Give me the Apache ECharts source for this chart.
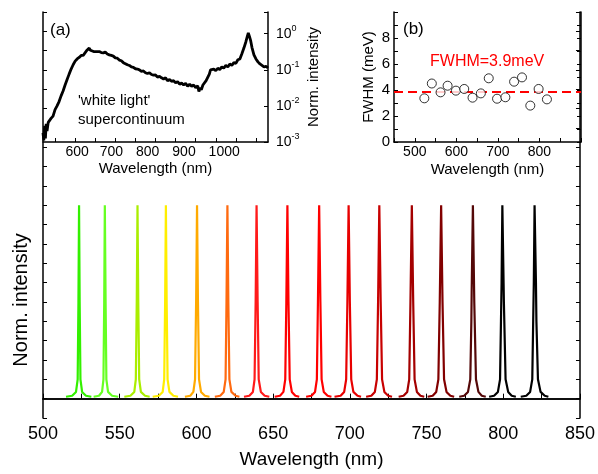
<!DOCTYPE html>
<html><head><meta charset="utf-8">
<script src="https://cdn.jsdelivr.net/npm/echarts/dist/echarts.min.js"></script>
<style>html,body{margin:0;padding:0;background:#fff}#c{width:598px;height:474px}</style>
</head><body><div id="c"></div>
<script>
// ---------- DATA ----------
// Main panel: narrow emission lines (wavelength nm, normalized intensity x10)
const peak523 = [[515,0.1],[519,0.15],[521.5,0.35],[522.6,1],[523.1,5],[523.5,10],[523.9,5],[524.4,1],[525.5,0.35],[528,0.15],[531.5,0.1]];
const peak540 = [[533,0.1],[536.5,0.15],[538.5,0.35],[539.4,1],[539.9,5],[540.3,10],[540.8,5],[541.3,1],[542.4,0.35],[545,0.15],[549,0.1]];
const peak561 = [[553,0.1],[557,0.15],[559.5,0.35],[560.5,1],[561.1,5],[561.6,10],[562.1,5],[562.7,1],[563.8,0.35],[566.5,0.15],[569.5,0.1]];
const peak580 = [[571.5,0.1],[575.5,0.15],[578,0.35],[579,1],[579.6,5],[580.1,10],[580.6,5],[581.2,1],[582.4,0.35],[585,0.15],[588,0.1]];
const peak600 = [[592.5,0.1],[596,0.15],[598,0.35],[599.1,1],[599.8,5],[600.4,10],[601,5],[601.7,1],[603,0.35],[605.5,0.15],[608.5,0.1]];
const peak620 = [[612,0.1],[615.5,0.15],[617.8,0.35],[619,1],[619.6,5],[620.2,10],[620.8,5],[621.5,1],[622.8,0.35],[625.5,0.15],[628,0.1]];
const peak639 = [[631,0.1],[634.5,0.15],[636.8,0.35],[637.9,1],[638.6,5],[639.2,10],[639.9,5],[640.6,1],[642,0.35],[644.5,0.15],[647.5,0.1]];
const peak659 = [[651,0.1],[654.5,0.15],[656.7,0.35],[657.9,1],[658.6,5],[659.3,10],[660,5],[660.8,1],[662.2,0.35],[664.5,0.15],[667,0.1]];
const peak680 = [[671.5,0.1],[675,0.15],[677.3,0.35],[678.5,1],[679.2,5],[680,10],[680.8,5],[681.6,1],[683,0.35],[685.5,0.15],[688,0.1]];
const peak699 = [[690,0.1],[694,0.15],[696.3,0.35],[697.6,1],[698.4,5],[699.2,10],[700,5],[700.9,1],[702.3,0.35],[705,0.15],[707.3,0.1]];
const peak719 = [[710.6,0.1],[714,0.15],[716.3,0.35],[717.6,1],[718.4,5],[719.2,10],[720.1,5],[721,1],[722.5,0.35],[725,0.15],[727.5,0.1]];
const peak740 = [[731.8,0.1],[735,0.15],[737.4,0.35],[738.7,1],[739.5,5],[740.4,10],[741.3,5],[742.2,1],[743.7,0.35],[746,0.15],[748.5,0.1]];
const peak759 = [[750.7,0.1],[754,0.15],[756.3,0.35],[757.7,1],[758.6,5],[759.5,10],[760.4,5],[761.4,1],[763,0.35],[765.5,0.15],[768,0.1]];
const peak780 = [[771.3,0.1],[774.5,0.15],[777,0.35],[778.5,1],[779.2,4],[779.4,5.5],[780.2,10],[781.1,5],[782.2,1],[783.8,0.35],[786,0.15],[788.6,0.1]];
const peak799 = [[790.8,0.1],[794,0.15],[796.5,0.35],[797.9,1],[798.5,4],[798.9,6],[799.4,10],[800.4,5],[801.5,1],[803.2,0.35],[805.5,0.15],[808.2,0.1]];
const peak820 = [[811.4,0.1],[815,0.15],[817.5,0.35],[818.9,1],[819.5,4],[819.9,6],[820.4,10],[821.3,6],[821.6,4],[822.6,1],[824.3,0.35],[827,0.15],[829.4,0.1]];
const peaks = [peak523,peak540,peak561,peak580,peak600,peak620,peak639,peak659,peak680,peak699,peak719,peak740,peak759,peak780,peak799,peak820];
const peakColors = ['#33f000','#66ff22','#aaee00','#ffee00','#ffaa00','#ff6a10','#ff1a1a','#ff0000','#ff0000','#e80000','#c80000','#a40000','#820000','#540808','#000000','#000000'];

// Inset (a): supercontinuum spectrum (wavelength nm, normalized intensity)
const scWavelength = [520,522,524,526,528,530,533,536,540,545,550,555,560,565,570,575,580,585,590,595,600,605,610,615,620,625,630,635,638,642,646,650,655,660,665,670,675,680,685,690,695,700,705,710,715,720,725,730,735,740,745,750,755,760,765,770,775,780,785,790,795,800,805,810,815,820,825,830,835,840,845,850,855,860,865,870,875,880,885,890,895,900,905,908,911,914,918,922,926,930,934,937,940,945,950,955,960,965,970,975,980,985,990,995,1000,1005,1010,1015,1020,1025,1028,1031,1034,1037,1040,1045,1050,1055,1060,1065,1070,1075,1080];
const scIntensity = [0.0018,0.0011,0.0028,0.00126,0.0032,0.002,0.0035,0.0032,0.0045,0.0052,0.0079,0.01,0.0132,0.019,0.026,0.038,0.054,0.076,0.105,0.138,0.174,0.2,0.22,0.25,0.25,0.3,0.355,0.4,0.35,0.36,0.32,0.34,0.32,0.32,0.3,0.295,0.31,0.275,0.26,0.25,0.24,0.214,0.21,0.186,0.178,0.158,0.148,0.138,0.132,0.12,0.117,0.107,0.105,0.1,0.091,0.093,0.083,0.079,0.083,0.074,0.071,0.072,0.063,0.066,0.06,0.056,0.06,0.05,0.054,0.048,0.05,0.044,0.047,0.04,0.043,0.038,0.042,0.035,0.04,0.035,0.038,0.032,0.036,0.025,0.032,0.028,0.038,0.042,0.05,0.052,0.076,0.1,0.089,0.105,0.095,0.11,0.102,0.12,0.112,0.132,0.12,0.145,0.132,0.158,0.151,0.19,0.2,0.28,0.4,0.6,0.8,1.05,0.83,0.63,0.42,0.26,0.2,0.166,0.145,0.132,0.12,0.126,0.112];
// tick labels of inset (a), drawn slightly left of their ticks in the original
const scTickLabels = {600:' 600', 700:'700  ', 800:'800    ', 900:'900      ', 1000:'1000      '};

// Inset (b): FWHM of each line
const fwhmWavelength = [523,541,562,579,599,619,639,659,678,698,718,739,758,778,798,818];
const fwhmValue = [3.36,4.5,3.82,4.33,3.95,4.08,3.41,3.74,4.9,3.33,3.44,4.64,4.97,2.8,4.08,3.28];
const fwhmMean = 3.9;

// ---------- CHART ----------
const FONT = 'Liberation Sans, Arial, sans-serif';
const chart = echarts.init(document.getElementById('c'), null, {renderer:'canvas'});
const axisLine = {show:true, lineStyle:{color:'#000', width:1.5}};

const series = peaks.map((p, i) => ({
  type:'line', xAxisIndex:0, yAxisIndex:0, data:p, showSymbol:false, symbol:'none',
  lineStyle:{color:peakColors[i], width:2.2}, itemStyle:{color:peakColors[i]}, z:3
}));
series.push({
  type:'line', xAxisIndex:2, yAxisIndex:2,
  data: scWavelength.map((w,i)=>[w, scIntensity[i]]),
  showSymbol:false, symbol:'none', lineStyle:{color:'#000', width:2.8}
});
series.push({
  type:'scatter', xAxisIndex:3, yAxisIndex:3,
  data: fwhmWavelength.map((w,i)=>[w, fwhmValue[i]]),
  symbol:'circle', symbolSize:9,
  itemStyle:{color:'#fff', borderColor:'#000', borderWidth:1}, z:5,
  markLine:{silent:true, symbol:'none', label:{show:false},
    lineStyle:{color:'#ff0000', type:[9,5], width:2},
    data:[{yAxis:fwhmMean}]}
});

const option = {
  animation:false,
  backgroundColor:'#fff',
  textStyle:{fontFamily:FONT},
  grid:[
    {left:43, top:12, width:538, height:410},
    {left:43, top:12, width:225, height:130},
    {left:394, top:12, width:187, height:130}
  ],
  xAxis:[
    {type:'value', gridIndex:0, min:500, max:850, interval:25, position:'bottom',
     axisLine, splitLine:{show:false},
     axisTick:{inside:true, length:5, lineStyle:{color:'#000', width:1}},
     axisLabel:{margin:7, fontSize:18, color:'#000', fontFamily:FONT, hideOverlap:false,
       formatter:v => (v % 50 === 0 ? String(v) : '')},
     name:'Wavelength (nm)', nameLocation:'middle', nameGap:32,
     nameTextStyle:{fontSize:19, color:'#000', fontFamily:FONT}},
    {type:'value', gridIndex:0, min:500, max:850, position:'top',
     axisLine, axisTick:{show:false}, axisLabel:{show:false}, splitLine:{show:false}},
    {type:'value', gridIndex:1, min:520, max:1080, splitNumber:11, minInterval:50, maxInterval:50,
     axisLine, splitLine:{show:false},
     axisTick:{inside:true, length:4, lineStyle:{color:'#000', width:1}},
     axisLabel:{margin:3, fontSize:14, color:'#000', fontFamily:FONT, hideOverlap:false,
       showMinLabel:false, showMaxLabel:false,
       formatter:v => (scTickLabels[v] !== undefined ? scTickLabels[v] : '')},
     name:'Wavelength (nm)', nameLocation:'middle', nameGap:19,
     nameTextStyle:{fontSize:15, color:'#000', fontFamily:FONT}},
    {type:'value', gridIndex:2, min:450, max:900, interval:50,
     axisLine, splitLine:{show:false},
     axisTick:{inside:true, length:4, lineStyle:{color:'#000', width:1}},
     axisLabel:{margin:3, fontSize:14, color:'#000', fontFamily:FONT, hideOverlap:false,
       formatter:v => (v % 100 === 0 && v < 900 ? String(v) : '')},
     name:'Wavelength (nm)', nameLocation:'middle', nameGap:20,
     nameTextStyle:{fontSize:15, color:'#000', fontFamily:FONT}}
  ],
  yAxis:[
    {type:'value', gridIndex:0, min:-1, max:20, interval:1, position:'left',
     axisLine, splitLine:{show:false},
     axisTick:{inside:true, length:4, lineStyle:{color:'#000', width:1}},
     axisLabel:{show:false}},
    {type:'value', gridIndex:0, min:-1, max:20, interval:1, position:'right',
     axisLine, splitLine:{show:false},
     axisTick:{inside:true, length:4, lineStyle:{color:'#000', width:1}},
     axisLabel:{show:false}},
    {type:'log', gridIndex:1, logBase:10, min:0.001, max:4, position:'right',
     axisLine, splitLine:{show:false},
     axisTick:{inside:true, length:4, lineStyle:{color:'#000', width:1}},
     axisLabel:{margin:8, color:'#000', fontFamily:FONT, hideOverlap:false,
       rich:{b:{fontSize:14, fontFamily:FONT, color:'#000', lineHeight:20},
             s:{fontSize:9, fontFamily:FONT, color:'#000', verticalAlign:'top', lineHeight:12}},
       formatter:v => { const e = Math.round(Math.log10(v)); return Math.abs(Math.pow(10,e)-v)/v < 1e-6 ? '{b|10}{s|'+e+'}' : ''; }},
     name:'Norm. intensity', nameLocation:'middle', nameGap:38, nameRotate:90,
     nameTextStyle:{fontSize:15, color:'#000', fontFamily:FONT}},
    {type:'value', gridIndex:2, min:0, max:10, interval:1, position:'left',
     axisLine, splitLine:{show:false},
     axisTick:{inside:true, length:4, lineStyle:{color:'#000', width:1}},
     axisLabel:{margin:4, fontSize:15, color:'#000', fontFamily:FONT, hideOverlap:false,
       formatter:v => (v % 2 === 0 && v < 10 ? String(v) : '')},
     name:'FWHM (meV)', nameLocation:'middle', nameGap:18,
     nameTextStyle:{fontSize:15, color:'#000', fontFamily:FONT}},
    {type:'value', gridIndex:2, min:0, max:10, interval:1, position:'right',
     axisLine, splitLine:{show:false},
     axisTick:{inside:true, length:4, lineStyle:{color:'#000', width:1}},
     axisLabel:{show:false}}
  ],
  graphic:[
    {type:'text', x:21, y:300, rotation:Math.PI/2,
     style:{text:'Norm. intensity', font:'20px '+FONT, fill:'#000', align:'center', verticalAlign:'middle'}},
    {type:'text', left:50, top:22, style:{text:'(a)', font:'17px '+FONT, fill:'#000'}},
    {type:'text', left:403, top:21, style:{text:'(b)', font:'17px '+FONT, fill:'#000'}},
    {type:'text', left:78, top:93, style:{text:"'white light'", font:'15px '+FONT, fill:'#000'}},
    {type:'text', left:78, top:112, style:{text:'supercontinuum', font:'15px '+FONT, fill:'#000'}},
    {type:'text', left:430, top:54, style:{text:'FWHM=3.9meV', font:'16px '+FONT, fill:'#ff0000'}}
  ],
  series
};
chart.setOption(option);
</script></body></html>
